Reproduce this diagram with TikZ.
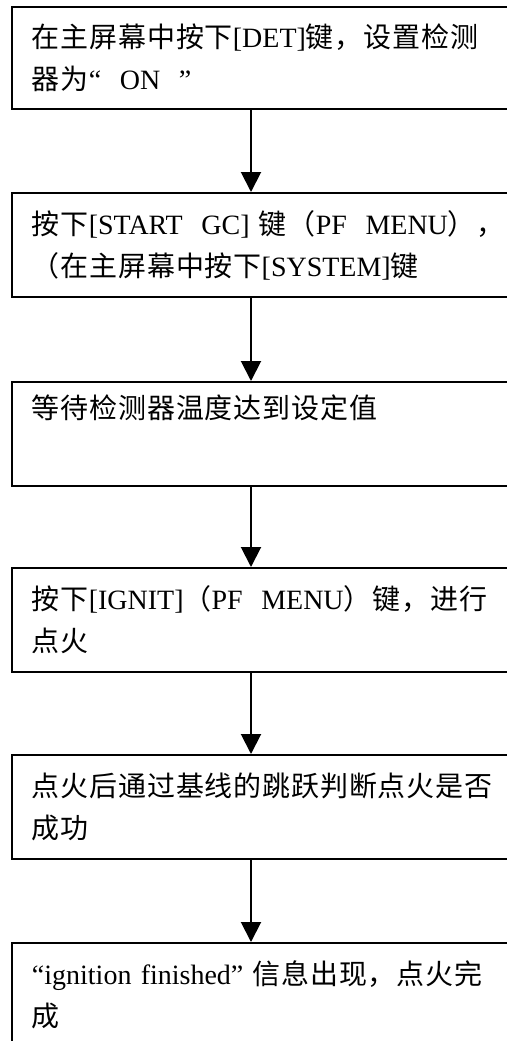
\documentclass[tikz,border=0pt]{standalone}
\usepackage{fontspec}
\setmainfont{Liberation Serif}
\newfontfamily\cjk[LetterSpace=3]{Noto Sans CJK SC}
\usetikzlibrary{arrows.meta,positioning}
\newcommand{\zh}[1]{{\cjk #1}}
\tikzset{
  stepbox/.style={draw,line width=1.4pt,anchor=north west,align=left,text width=12cm,minimum width=13cm,minimum height=2.6cm,inner xsep=0.5cm,font=\fontsize{19.9pt}{29.9pt}\selectfont},
  arr/.style={-{Triangle[length=0.5cm,width=0.5cm]},line width=1.4pt}
}

\begin{document}
\begin{tikzpicture}[x=0.025cm,y=-0.025cm]
\useasboundingbox (0,0) rectangle (507,1041);
\clip (0,0) rectangle (507,1041);
\coordinate (ax) at (251,0);
\node[stepbox,minimum height=2.55cm] (det) at (11,6) {\zh{在主屏幕中按下}[DET]\zh{键，设置检测}\\\zh{器为}“\ \ ON\ \ ”};
\node[stepbox] (start) at (11,192) {\zh{按下}[START\ \ GC] \zh{键（}PF\ \ MENU\zh{），}\\\zh{（在主屏幕中按下}[SYSTEM]\zh{键}};
\node[stepbox] (wait) at (11,381) {\zh{等待检测器温度达到设定值}\\\strut};
\node[stepbox] (ignit) at (11,567) {\zh{按下}[IGNIT]\zh{（}PF\ \ MENU\zh{）键，进行}\\\zh{点火}};
\node[stepbox] (check) at (11,754) {\zh{点火后通过基线的跳跃判断点火是否}\\\zh{成功}};
\node[stepbox] (done) at (11,942) {“ignition finished” \zh{信息出现，点火完}\\\zh{成}};
\draw[arr] (det.south -| ax) -- (start.north -| ax);
\draw[arr] (start.south -| ax) -- (wait.north -| ax);
\draw[arr] (wait.south -| ax) -- (ignit.north -| ax);
\draw[arr] (ignit.south -| ax) -- (check.north -| ax);
\draw[arr] (check.south -| ax) -- (done.north -| ax);
\end{tikzpicture}
\end{document}
